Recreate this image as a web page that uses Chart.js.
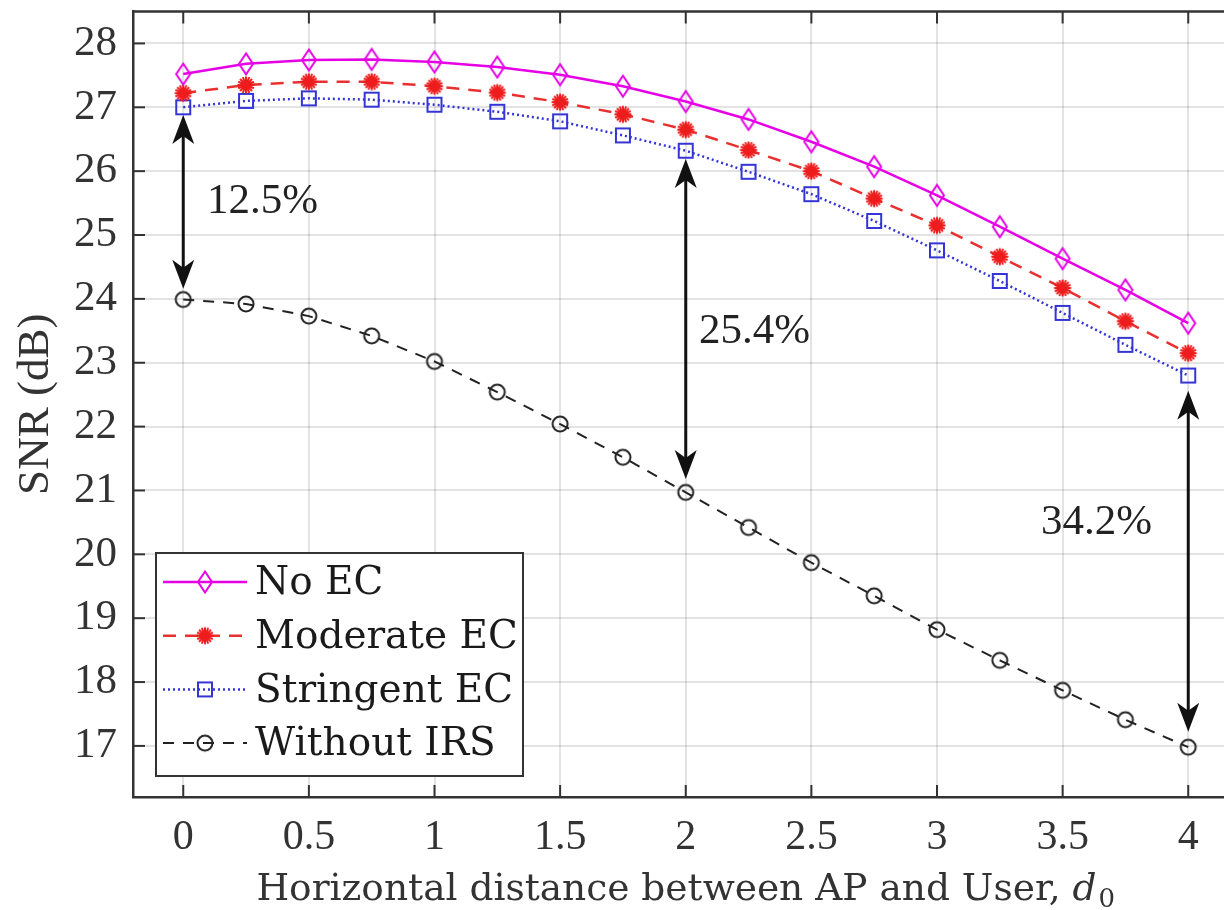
<!DOCTYPE html>
<html>
<head>
<meta charset="utf-8">
<script src="https://cdn.jsdelivr.net/npm/chart.js@4.4.1/dist/chart.umd.min.js"></script>
<style>
html, body { margin: 0; padding: 0; background: #fff; overflow: hidden; }
#wrap { position: relative; width: 1250px; height: 910px; }
</style>
</head>
<body>
<div id="wrap"><canvas id="snrChart" width="1250" height="910"></canvas></div>
<script>
// values
const distances = [0, 0.25, 0.5, 0.75, 1, 1.25, 1.5, 1.75, 2, 2.25, 2.5, 2.75, 3, 3.25, 3.5, 3.75, 4];
const noEC       = [27.52, 27.68, 27.74, 27.75, 27.71, 27.63, 27.51, 27.33, 27.09, 26.81, 26.46, 26.07, 25.62, 25.13, 24.63, 24.14, 23.62];
const moderateEC = [27.22, 27.35, 27.40, 27.40, 27.33, 27.23, 27.08, 26.89, 26.65, 26.33, 26.00, 25.57, 25.15, 24.66, 24.17, 23.65, 23.15];
const stringentEC = [27.00, 27.10, 27.14, 27.12, 27.04, 26.93, 26.78, 26.56, 26.32, 25.99, 25.64, 25.22, 24.76, 24.28, 23.78, 23.28, 22.80];
const withoutIRS = [23.99, 23.92, 23.73, 23.42, 23.02, 22.54, 22.04, 21.52, 20.97, 20.42, 19.87, 19.35, 18.82, 18.34, 17.87, 17.41, 16.98];

const xTicks = [0, 0.5, 1, 1.5, 2, 2.5, 3, 3.5, 4];
const yTicks = [17, 18, 19, 20, 21, 22, 23, 24, 25, 26, 27, 28];

// double arrows showing the gain
const gapX = [0, 2, 4];
const gapTop = [26.88, 26.19, 22.56];
const gapBottom = [24.16, 21.18, 17.22];
const gapLabels = ['12.5%', '25.4%', '34.2%'];
const gapLabelX = [0.095, 2.053, 3.414];
const gapLabelY = [25.52, 23.49, 20.50];

const serif = '"Liberation Serif", "Times New Roman", serif';
const cmLike = '"DejaVu Serif", serif';

function makeMarker(w, h, draw) {
    const c = document.createElement('canvas');
    c.width = w;
    c.height = h;
    draw(c.getContext('2d'), w, h);
    return c;
}

const diamondMark = makeMarker(18, 26, (g) => {
    g.strokeStyle = '#e600e6';
    g.lineWidth = 2;
    g.beginPath();
    g.moveTo(9, 2.5); g.lineTo(16, 13); g.lineTo(9, 23.5); g.lineTo(2, 13);
    g.closePath();
    g.stroke();
});

const starMark = makeMarker(22, 22, (g) => {
    g.strokeStyle = '#ee1c1c';
    g.fillStyle = '#ee1c1c';
    g.lineWidth = 2;
    for (let k = 0; k < 8; k++) {
        const a = k * Math.PI / 8;
        g.beginPath();
        g.moveTo(11 - 8.5 * Math.cos(a), 11 - 8.5 * Math.sin(a));
        g.lineTo(11 + 8.5 * Math.cos(a), 11 + 8.5 * Math.sin(a));
        g.stroke();
    }
    g.beginPath();
    g.arc(11, 11, 4.5, 0, Math.PI * 2);
    g.fill();
});

const squareMark = makeMarker(18, 18, (g) => {
    g.strokeStyle = '#3535d6';
    g.lineWidth = 2;
    g.strokeRect(2, 2, 14, 14);
});

const circleMark = makeMarker(20, 20, (g) => {
    g.strokeStyle = '#222';
    g.lineWidth = 2;
    g.beginPath();
    g.arc(10, 10, 7.5, 0, Math.PI * 2);
    g.stroke();
});

function toPoints(vals) {
    return distances.map((x, i) => ({ x: x, y: vals[i] }));
}

const datasets = [
    { label: 'No EC', data: toPoints(noEC), borderColor: '#e600e6', borderWidth: 2.5, pointStyle: diamondMark, legendDash: [] },
    { label: 'Moderate EC', data: toPoints(moderateEC), borderColor: '#e83030', borderWidth: 2.5, borderDash: [13, 9], pointStyle: starMark, legendDash: [13, 9] },
    { label: 'Stringent EC', data: toPoints(stringentEC), borderColor: '#3535d6', borderWidth: 2.5, borderDash: [2, 3], pointStyle: squareMark, legendDash: [2, 3] },
    { label: 'Without IRS', data: toPoints(withoutIRS), borderColor: '#222', borderWidth: 2, borderDash: [11, 9], pointStyle: circleMark, legendDash: [11, 9] }
];
datasets.forEach(d => {
    d.backgroundColor = 'transparent';
    d.pointRadius = 9;
    d.tension = 0;
    d.fill = false;
});

function drawHead(ctx, x, y, dir) {
    // dir = 1 points up, -1 points down
    ctx.beginPath();
    ctx.moveTo(x, y);
    ctx.lineTo(x - 11, y + dir * 29);
    ctx.lineTo(x, y + dir * 21);
    ctx.lineTo(x + 11, y + dir * 29);
    ctx.closePath();
    ctx.fill();
}

const framePlugin = {
    id: 'frame',
    beforeDatasetsDraw(chart) {
        const { ctx, chartArea: a, scales } = chart;
        ctx.save();
        ctx.strokeStyle = '#333';
        ctx.lineWidth = 2;
        xTicks.forEach(v => {
            const px = scales.x.getPixelForValue(v);
            ctx.beginPath();
            ctx.moveTo(px, a.top); ctx.lineTo(px, a.top + 12);
            ctx.moveTo(px, a.bottom); ctx.lineTo(px, a.bottom - 12);
            ctx.stroke();
        });
        yTicks.forEach(v => {
            const py = scales.y.getPixelForValue(v);
            ctx.beginPath();
            ctx.moveTo(a.left, py); ctx.lineTo(a.left + 12, py);
            ctx.stroke();
        });
        ctx.lineWidth = 2.5;
        ctx.beginPath();
        ctx.moveTo(a.left, a.top); ctx.lineTo(a.right, a.top); ctx.lineTo(a.right, a.bottom);
        ctx.stroke();
        ctx.restore();
    },
    afterDatasetsDraw(chart) {
        const { ctx, scales } = chart;
        ctx.save();
        ctx.strokeStyle = '#111';
        ctx.fillStyle = '#111';
        ctx.lineWidth = 3;
        gapX.forEach((gx, i) => {
            const px = scales.x.getPixelForValue(gx);
            const pt = scales.y.getPixelForValue(gapTop[i]);
            const pb = scales.y.getPixelForValue(gapBottom[i]);
            ctx.beginPath();
            ctx.moveTo(px, pt + 20);
            ctx.lineTo(px, pb - 20);
            ctx.stroke();
            drawHead(ctx, px, pt, 1);
            drawHead(ctx, px, pb, -1);
        });
        ctx.font = '43px ' + serif;
        ctx.fillStyle = '#222';
        ctx.textAlign = 'left';
        ctx.textBaseline = 'middle';
        gapLabels.forEach((t, i) => {
            ctx.fillText(t, scales.x.getPixelForValue(gapLabelX[i]), scales.y.getPixelForValue(gapLabelY[i]));
        });
        ctx.restore();
    },
    afterDraw(chart) {
        const { ctx, chartArea: a } = chart;
        ctx.save();
        // legend box
        const lx = a.left + 23, ly = a.bottom - 244, lw = 367, lh = 223;
        ctx.fillStyle = '#fff';
        ctx.fillRect(lx, ly, lw, lh);
        ctx.strokeStyle = '#333';
        ctx.lineWidth = 2;
        ctx.strokeRect(lx, ly, lw, lh);
        ctx.font = '39px ' + cmLike;
        ctx.textBaseline = 'middle';
        ctx.textAlign = 'left';
        chart.data.datasets.forEach((d, i) => {
            const ry = ly + 29 + i * 53.7;
            ctx.strokeStyle = d.borderColor;
            ctx.lineWidth = d.borderWidth;
            ctx.setLineDash(d.legendDash);
            ctx.beginPath();
            ctx.moveTo(lx + 7, ry); ctx.lineTo(lx + 91, ry);
            ctx.stroke();
            ctx.setLineDash([]);
            const m = d.pointStyle;
            ctx.drawImage(m, lx + 49 - m.width / 2, ry - m.height / 2);
            ctx.fillStyle = '#1a1a1a';
            ctx.fillText(d.label, lx + 99, ry + 2);
        });
        // x axis title with italic d and subscript 0
        const main = 'Horizontal distance between AP and User, ';
        ctx.fillStyle = '#333';
        ctx.textBaseline = 'alphabetic';
        ctx.font = '37.5px ' + cmLike;
        const w1 = ctx.measureText(main).width;
        ctx.font = 'italic 37.5px ' + cmLike;
        const w2 = ctx.measureText('d').width;
        ctx.font = '26px ' + cmLike;
        const w3 = ctx.measureText('0').width;
        const cx = (a.left + a.right) / 2;
        const x0 = cx - (w1 + w2 + w3 + 2) / 2;
        const base = 900;
        ctx.font = '37.5px ' + cmLike;
        ctx.fillText(main, x0, base);
        ctx.font = 'italic 37.5px ' + cmLike;
        ctx.fillText('d', x0 + w1, base);
        ctx.font = '26px ' + cmLike;
        ctx.fillText('0', x0 + w1 + w2 + 2, base + 7);
        ctx.restore();
    }
};

function noEdgePadding(s) {
    s.paddingTop = 0;
    s.paddingBottom = 0;
    s.paddingLeft = 0;
    s.paddingRight = 0;
}

const chart = new Chart(document.getElementById('snrChart').getContext('2d'), {
    type: 'line',
    data: { datasets: datasets },
    options: {
        responsive: false,
        animation: false,
        layout: { padding: { top: 8, right: 11, left: 0, bottom: 0 } },
        plugins: {
            legend: { display: false },
            tooltip: { enabled: false }
        },
        scales: {
            x: {
                type: 'linear',
                min: -0.2,
                max: 4.2,
                afterBuildTicks: s => { s.ticks = xTicks.map(v => ({ value: v })); },
                afterFit: s => { s.height = 113; noEdgePadding(s); },
                grid: { color: 'rgba(0,0,0,0.11)', lineWidth: 2, drawTicks: false },
                border: { color: '#333', width: 2.5 },
                ticks: {
                    font: { family: serif, size: 42 },
                    color: '#333',
                    padding: 16,
                    maxRotation: 0,
                    autoSkip: false,
                    callback: v => String(v)
                }
            },
            y: {
                min: 16.2,
                max: 28.5,
                afterBuildTicks: s => { s.ticks = yTicks.map(v => ({ value: v })); },
                afterFit: s => { s.width = 133; noEdgePadding(s); },
                grid: { color: 'rgba(0,0,0,0.11)', lineWidth: 2, drawTicks: false },
                border: { color: '#333', width: 2.5 },
                ticks: {
                    font: { family: serif, size: 43 },
                    color: '#333',
                    padding: 16,
                    autoSkip: false,
                    callback: v => String(v)
                },
                title: {
                    display: true,
                    text: 'SNR (dB)',
                    font: { family: serif, size: 45 },
                    color: '#333',
                    padding: { top: 9, bottom: 0 }
                }
            }
        }
    },
    plugins: [framePlugin]
});
</script>
</body>
</html>
